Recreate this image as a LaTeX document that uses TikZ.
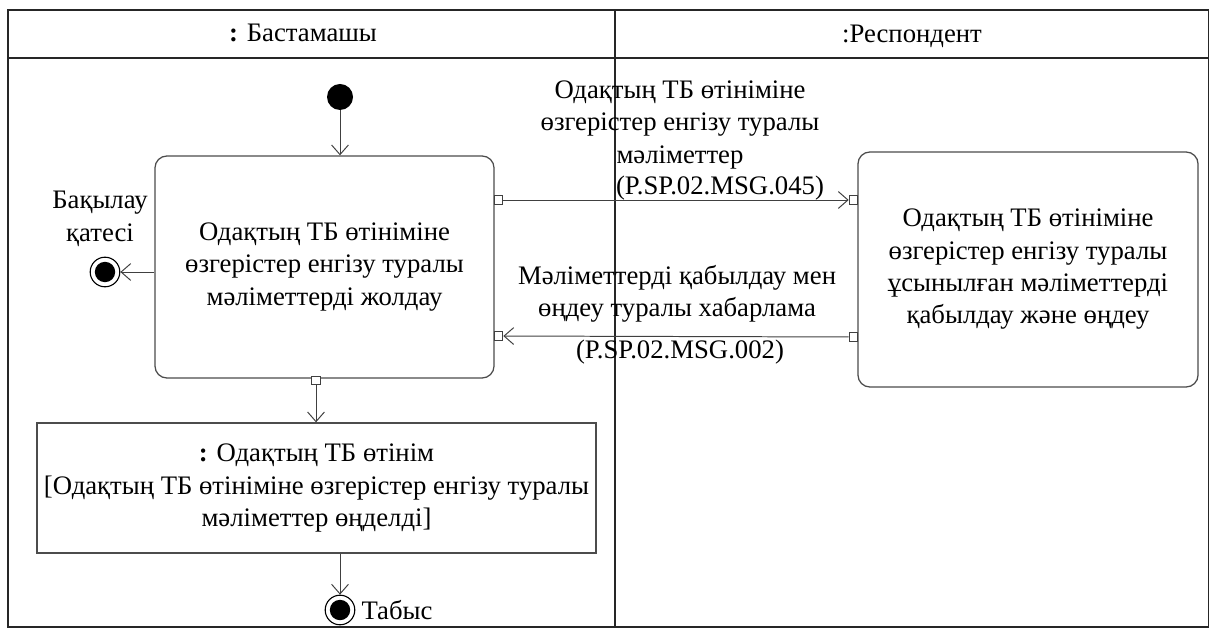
\documentclass[tikz,border=0pt]{standalone}
\usepackage{fontspec}
\setmainfont{LiberationSerif}[Extension=.ttf, UprightFont=*-Regular, BoldFont=*-Bold]
\usetikzlibrary{positioning,arrows.meta,shapes}

\begin{document}
\begin{tikzpicture}[
  x=0.025cm, y=-0.025cm,
  font=\fontsize{19}{23}\selectfont,
  frame/.style={draw=black!85, line width=1.2pt},
  action/.style={rectangle, rounded corners=3mm, draw=black!70, line width=0.9pt,
                 align=center, inner sep=0pt},
  objbox/.style={rectangle, draw=black!70, line width=0.9pt, align=center, inner sep=0pt},
  pin/.style={rectangle, draw=black!75, fill=white, line width=0.6pt,
              minimum size=2.2mm, inner sep=0pt},
  start/.style={circle, fill=black, minimum size=6.5mm, inner sep=0pt},
  final/.style={circle, draw=black, line width=0.8pt, minimum size=7.4mm, inner sep=0pt,
                path picture={\fill[black] (path picture bounding box.center) circle (2.55mm);}},
  arr/.style={-{Straight Barb[length=2.4mm, width=4.2mm]}, draw=black!75, line width=0.7pt}
]
\useasboundingbox (0,0) rectangle (1209,629);

% swimlanes
\draw[frame] (8,10) rectangle (1209,627);
\draw[frame] (8,58) -- (1209,58);
\draw[frame] (615,10) -- (615,627);
\node[anchor=base] (lane1) at (303,42) {\textbf{:} Бастамашы};
\node[anchor=base] (lane2) at (912,43) {:Респондент};

% initiator side
\node[start] (init) at (340,97) {};
\node[action, minimum width=8.475cm, minimum height=5.55cm] (send) at (324.5,267)
  {Одақтың ТБ өтініміне\\өзгерістер енгізу туралы\\мәліметтерді жолдау};
\node[pin] (sendout) at (498.5,200) {};
\node[pin] (sendin) at (498.5,336) {};
\node[pin] (sendobj) at (316,380.5) {};

% error end
\node[final] (err) at (105,272) {};
\node[align=center] (errlbl) at (100,219) {Бақылау\\қатесі};

% object node
\node[objbox, minimum width=13.975cm, minimum height=3.25cm] (obj) at (316.5,488)
  {\textbf{:} Одақтың ТБ өтінім\\{[}Одақтың ТБ өтініміне өзгерістер енгізу туралы\\мәліметтер өңделді{]}};

% success end
\node[final] (ok) at (340,610) {};
\node[right=0.3mm of ok] (oklbl) {Табыс};

% respondent side
\node[action, minimum width=8.5cm, minimum height=5.875cm] (recv) at (1028,269.5)
  {Одақтың ТБ өтініміне\\өзгерістер енгізу туралы\\ұсынылған мәліметтерді\\қабылдау және өңдеу};
\node[pin] (recvin) at (853.5,200) {};
\node[pin] (recvout) at (853.5,337) {};

% message labels
\node[align=center] (msg1) at (680,125) {Одақтың ТБ өтініміне\\өзгерістер енгізу туралы\\мәліметтер};
\node (msg1id) at (720,188) {(P.SP.02.MSG.045)};
\node[align=center] (msg2) at (677,294) {Мәліметтерді қабылдау мен\\өңдеу туралы хабарлама};
\node (msg2id) at (680,352) {(P.SP.02.MSG.002)};

% flows
\draw[arr] (init) -- (init |- send.north);
\draw[arr] (send.west |- err) -- (err);
\draw[arr] (sendout) -- (recvin);
\draw[arr] (recvout) -- (sendin);
\draw[arr] (sendobj) -- (sendobj |- obj.north);
\draw[arr] (ok |- obj.south) -- (ok);
\end{tikzpicture}
\end{document}
